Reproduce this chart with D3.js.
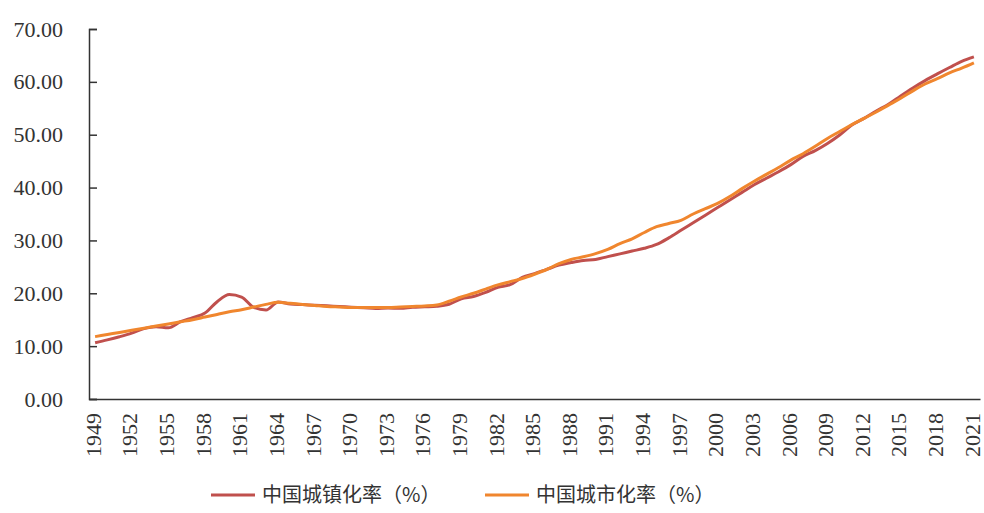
<!DOCTYPE html>
<html>
<head>
<meta charset="utf-8">
<script src="https://cdn.jsdelivr.net/npm/d3@7"></script>
<style>
  body { margin: 0; background: #fff; }
  svg { display: block; }
</style>
</head>
<body>
<div id="chart"></div>
<script>

// years on the category axis
var years = d3.range(1949, 2022);

// labels shown under the axis, every third year
var tickYears = [1949, 1952, 1955, 1958, 1961, 1964, 1967, 1970, 1973, 1976, 1979, 1982, 1985,
  1988, 1991, 1994, 1997, 2000, 2003, 2006, 2009, 2012, 2015, 2018, 2021];

var yTicks = [0, 10, 20, 30, 40, 50, 60, 70];

// 中国城镇化率（%）
var townRate = [10.64, 11.18, 11.78, 12.46, 13.31, 13.69, 13.48, 14.62, 15.39, 16.25,
  18.41, 19.75, 19.29, 17.33, 16.84, 18.37, 17.98, 17.86, 17.74, 17.62,
  17.50, 17.38, 17.26, 17.13, 17.20, 17.16, 17.34, 17.44, 17.55, 17.92,
  18.96, 19.39, 20.16, 21.13, 21.62, 23.01, 23.71, 24.52, 25.32, 25.81,
  26.21, 26.41, 26.94, 27.46, 27.99, 28.51, 29.24, 30.48, 31.91, 33.35,
  34.78, 36.22, 37.66, 39.09, 40.53, 41.76, 42.99, 44.34, 45.89, 46.99,
  48.34, 49.95, 51.83, 53.10, 54.49, 55.75, 57.33, 58.84, 60.24, 61.50,
  62.71, 63.89, 64.72];

// 中国城市化率（%）
var cityRate = [11.8, 12.2, 12.6, 13.0, 13.4, 13.8, 14.2, 14.6, 15.0, 15.5,
  16.0, 16.5, 16.9, 17.4, 17.9, 18.3, 18.1, 17.9, 17.7, 17.5,
  17.4, 17.3, 17.3, 17.3, 17.3, 17.4, 17.5, 17.6, 17.8, 18.5,
  19.3, 20.0, 20.8, 21.6, 22.2, 22.8, 23.6, 24.5, 25.6, 26.4,
  26.9, 27.5, 28.3, 29.4, 30.3, 31.5, 32.6, 33.2, 33.8, 35.0,
  36.0, 37.0, 38.3, 39.8, 41.2, 42.5, 43.8, 45.2, 46.4, 47.8,
  49.3, 50.6, 51.9, 53.1, 54.3, 55.6, 56.9, 58.3, 59.6, 60.6,
  61.7, 62.6, 63.6];

var seriesNames = ['中国城镇化率（%）', '中国城市化率（%）'];
var seriesColors = ['#C0504D', '#F0862E'];

var width = 984, height = 513;
var margin = {top: 29, right: 4, bottom: 114, left: 89};
var plotW = width - margin.left - margin.right;
var plotH = height - margin.top - margin.bottom;

var svg = d3.select('#chart').append('svg')
  .attr('width', width)
  .attr('height', height);

var x = d3.scaleBand().domain(years).range([0, plotW]);
var y = d3.scaleLinear().domain([0, 70]).range([plotH, 0]);

var g = svg.append('g')
  .attr('transform', 'translate(' + margin.left + ',' + margin.top + ')');

// y axis, ticks pointing into the plot
var yAxis = g.append('g')
  .attr('class', 'axis axis--y')
  .call(d3.axisRight(y).tickValues(yTicks).tickSize(8).tickFormat(d3.format('.2f')));
yAxis.select('.domain').attr('stroke', '#333').attr('stroke-width', 1.5);
yAxis.selectAll('.tick line').attr('stroke', '#333').attr('stroke-width', 1.5);
yAxis.selectAll('.tick text')
  .attr('x', -26)
  .attr('text-anchor', 'end')
  .attr('fill', '#333')
  .style('font-family', '"Liberation Serif", "Times New Roman", serif')
  .style('font-size', '22px');

// x axis, no tick marks, rotated labels
var xAxis = g.append('g')
  .attr('class', 'axis axis--x')
  .attr('transform', 'translate(0,' + plotH + ')')
  .call(d3.axisBottom(x).tickValues(tickYears).tickSize(0).tickSizeOuter(0));
xAxis.select('.domain').attr('stroke', '#333').attr('stroke-width', 1.5);
xAxis.selectAll('.tick text')
  .attr('transform', 'rotate(-90)')
  .attr('x', -14)
  .attr('y', -2)
  .attr('dy', '0.35em')
  .attr('text-anchor', 'end')
  .attr('fill', '#333')
  .style('font-family', '"Liberation Serif", "Times New Roman", serif')
  .style('font-size', '22px');

var line = d3.line()
  .x(function(d, i) { return x(years[i]) + x.bandwidth() / 2; })
  .y(function(d) { return y(d); })
  .curve(d3.curveMonotoneX);

[townRate, cityRate].forEach(function(s, i) {
  g.append('path')
    .datum(s)
    .attr('fill', 'none')
    .attr('stroke', seriesColors[i])
    .attr('stroke-width', 3)
    .attr('stroke-linejoin', 'round')
    .attr('d', line);
});

// legend
var legendX = [211, 485];
var legend = svg.selectAll('.legend')
  .data(seriesNames)
  .enter().append('g')
  .attr('class', 'legend')
  .attr('transform', function(d, i) { return 'translate(' + legendX[i] + ',495)'; });

legend.append('line')
  .attr('x1', 0).attr('x2', 44)
  .attr('y1', 0).attr('y2', 0)
  .attr('stroke', function(d, i) { return seriesColors[i]; })
  .attr('stroke-width', 3);

legend.append('text')
  .attr('x', 51)
  .attr('dy', '0.35em')
  .attr('fill', '#333')
  .style('font-family', '"Noto Sans CJK SC", sans-serif')
  .style('font-size', '20px')
  .text(function(d) { return d; });

</script>
</body>
</html>
